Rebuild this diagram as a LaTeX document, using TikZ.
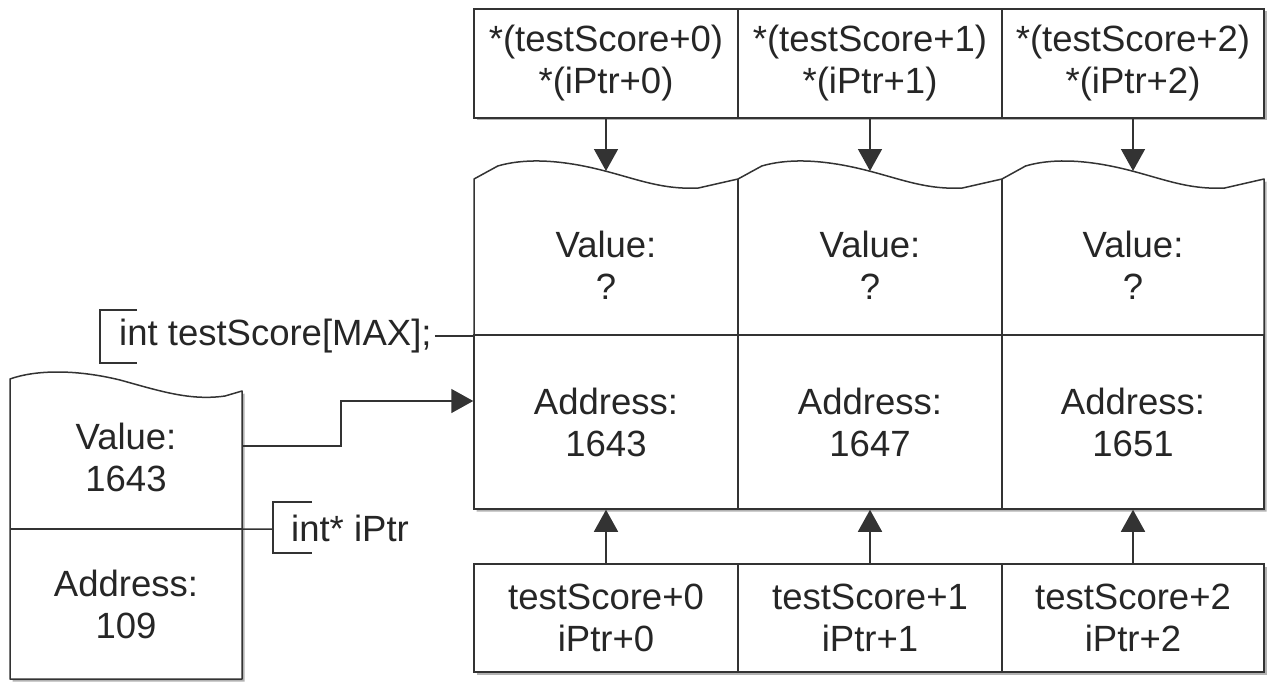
\documentclass[tikz,border=0pt]{standalone}
\usepackage{fontspec}
\setmainfont{Liberation Sans}
\usetikzlibrary{arrows.meta,shadows}
\tikzset{
 ln/.style={draw=black!80, line width=1.5pt},
 txt/.style={font=\fontsize{36.5}{42}\selectfont, align=center, text=black!85, inner sep=0pt},
 arr/.style={ln, -{Triangle[length=22pt,width=24pt]}},
 shad/.style={drop shadow={shadow xshift=2.5pt, shadow yshift=-2.5pt, fill=black!30, opacity=1}},
}
\newcommand{\wv}[2]{-- ({#1+0.09*#2},166) .. controls ({#1+0.18*#2},159) and ({#1+0.3*#2},159) .. ({#1+0.45*#2},168) .. controls ({#1+0.6*#2},177) and ({#1+0.7*#2},190) .. ({#1+0.85*#2},188) -- ({#1+#2},179)}
\begin{document}
\begin{tikzpicture}[x=1pt,y=-1pt]
\useasboundingbox (0,0) rectangle (1268,682);
% top box
\path[fill=white, shad] (474,9) rectangle (1264,118);
\node[txt, ln, minimum width=264pt, minimum height=109pt] (t0) at (606,63.5) {*(testScore+0)\\*(iPtr+0)};
\node[txt, ln, minimum width=264pt, minimum height=109pt] (t1) at (870,63.5) {*(testScore+1)\\*(iPtr+1)};
\node[txt, ln, minimum width=262pt, minimum height=109pt] (t2) at (1133,63.5) {*(testScore+2)\\*(iPtr+2)};
% memory block
\path[fill=white, shad] (474,509) -- (474,179) \wv{474}{264} \wv{738}{264} \wv{1002}{262} -- (1264,509) -- cycle;
\draw[ln, line join=round] (474,335) -- (474,179) \wv{474}{264} \wv{738}{264} \wv{1002}{262} -- (1264,335);
\draw[ln] (738,179) -- (738,335) (1002,179) -- (1002,335);
\node[txt] (v0) at (606,265) {Value:\\?};
\node[txt] (v1) at (870,265) {Value:\\?};
\node[txt] (v2) at (1133,265) {Value:\\?};
\node[txt, ln, minimum width=264pt, minimum height=174pt] (a0) at (606,422) {Address:\\1643};
\node[txt, ln, minimum width=264pt, minimum height=174pt] (a1) at (870,422) {Address:\\1647};
\node[txt, ln, minimum width=262pt, minimum height=174pt] (a2) at (1133,422) {Address:\\1651};
\coordinate (w0) at (606,171);
\coordinate (w1) at (870,171);
\coordinate (w2) at (1133,171);
% bottom box
\path[fill=white, shad] (474,564) rectangle (1264,672);
\node[txt, ln, minimum width=264pt, minimum height=108pt] (b0) at (606,618) {testScore+0\\iPtr+0};
\node[txt, ln, minimum width=264pt, minimum height=108pt] (b1) at (870,618) {testScore+1\\iPtr+1};
\node[txt, ln, minimum width=262pt, minimum height=108pt] (b2) at (1133,618) {testScore+2\\iPtr+2};
% arrows
\draw[arr] (t0.south) -- (w0);
\draw[arr] (t1.south) -- (w1);
\draw[arr] (t2.south) -- (w2);
\draw[arr] (b0.north) -- (a0.south);
\draw[arr] (b1.north) -- (a1.south);
\draw[arr] (b2.north) -- (a2.south);
% left box (iPtr)
\path[fill=white, shad] (10,679) -- (10,379) .. controls (35,370) and (75,369) .. (120,380) .. controls (160,391) and (190,401) .. (225,396) -- (242,391) -- (242,679) -- cycle;
\draw[ln, line join=round] (10,679) -- (10,379) .. controls (35,370) and (75,369) .. (120,380) .. controls (160,391) and (190,401) .. (225,396) -- (242,391) -- (242,679) -- cycle;
\draw[ln] (10,529) -- (242,529);
\node[txt, minimum width=232pt, minimum height=144pt] (lv) at (126,457) {Value:\\1643};
\node[txt, minimum width=232pt, minimum height=150pt] (la) at (126,604) {Address:\\109};
\draw[arr] ([yshift=11pt]lv.east) -- ++(99,0) |- ([yshift=21pt]a0.west);
% labels
\node[txt, anchor=west, inner xsep=3pt] (ts) at (116,336) {int testScore[MAX];};
\draw[ln] (137,310) -- (100,310) -- (100,363) -- (137,363);
\draw[ln] (ts.east) -- (ts.east -| a0.west);
\node[txt, anchor=west] (ip) at (291,528) {int* iPtr};
\coordinate (ipb) at (273,529);
\draw[ln] (312,502) -- (273,502) -- (273,553) -- (312,553);
\draw[ln] (lv.south east) -- (ipb);
\end{tikzpicture}
\end{document}
